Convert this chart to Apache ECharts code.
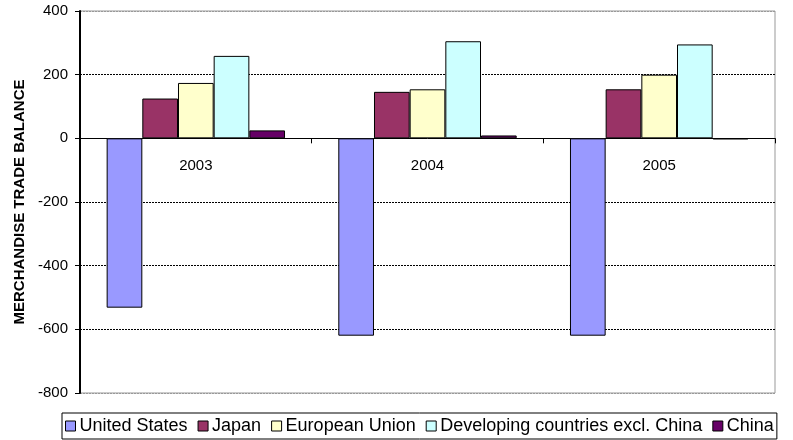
<!DOCTYPE html>
<html>
<head>
<meta charset="utf-8">
<script src="https://cdn.jsdelivr.net/npm/echarts@6/dist/echarts.min.js"></script>
<style>
  html, body { margin: 0; padding: 0; background: #fff; }
  #chart { width: 793px; height: 440px; }
</style>
</head>
<body>
<div id="chart"></div>
<script>
  // years on the x axis
  var years = ['2003', '2004', '2005'];

  // merchandise trade balance per region
  var unitedStates = [-532, -620, -620];
  var japan = [125, 146, 154];
  var europeanUnion = [174, 154, 200];
  var developing = [259, 305, 295];
  var china = [25, 9, -3];

  var yTicks = { min: -800, max: 400, step: 200 };

  var font = '"Liberation Sans", Arial, sans-serif';

  function bar(name, data, color) {
    return {
      name: name,
      type: 'bar',
      data: data,
      barGap: '0%',
      barCategoryGap: '23%',
      itemStyle: { color: color, borderColor: '#000', borderWidth: 1 }
    };
  }

  var chart = echarts.init(document.getElementById('chart'));
  chart.setOption({
    animation: false,
    textStyle: { fontFamily: font, color: '#000' },
    grid: {
      left: 80, right: 18, top: 11, bottom: 47,
      show: true, borderColor: '#999', borderWidth: 1, backgroundColor: '#fff'
    },
    legend: {
      left: 62, bottom: 1,
      itemWidth: 10, itemHeight: 10, itemGap: 10,
      padding: [4, 3, 4, 3],
      borderColor: '#000', borderWidth: 1,
      icon: 'rect',
      textStyle: { fontSize: 18, color: '#000', fontFamily: font, padding: [0, 0, 0, -1] },
      itemStyle: { borderColor: '#000', borderWidth: 1 }
    },
    xAxis: {
      type: 'category',
      data: years,
      axisLine: { onZero: true, lineStyle: { color: '#000', width: 1 } },
      axisTick: { show: true, length: 5, lineStyle: { color: '#000' } },
      // labels sit just under the zero line, as in the source chart
      axisLabel: { fontSize: 15, color: '#000', margin: -235 },
      splitLine: { show: false }
    },
    yAxis: {
      type: 'value',
      min: yTicks.min, max: yTicks.max, interval: yTicks.step,
      name: 'MERCHANDISE TRADE BALANCE',
      nameLocation: 'middle',
      nameGap: 53,
      nameTextStyle: { fontSize: 15, fontWeight: 'bold', color: '#000' },
      axisLine: { show: true, lineStyle: { color: '#000', width: 2 } },
      axisTick: { show: true, length: 5, lineStyle: { color: '#000' } },
      axisLabel: { fontSize: 15, color: '#000', margin: 12 },
      splitLine: {
        show: true,
        lineStyle: {
          type: [2, 1],
          color: ['#999', '#000', '#000', '#000', '#000', '#000', '#999']
        }
      }
    },
    series: [
      bar('United States', unitedStates, '#9999FF'),
      bar('Japan', japan, '#993366'),
      bar('European Union', europeanUnion, '#FFFFCC'),
      bar('Developing countries excl. China', developing, '#CCFFFF'),
      bar('China', china, '#660066')
    ]
  });
</script>
</body>
</html>
